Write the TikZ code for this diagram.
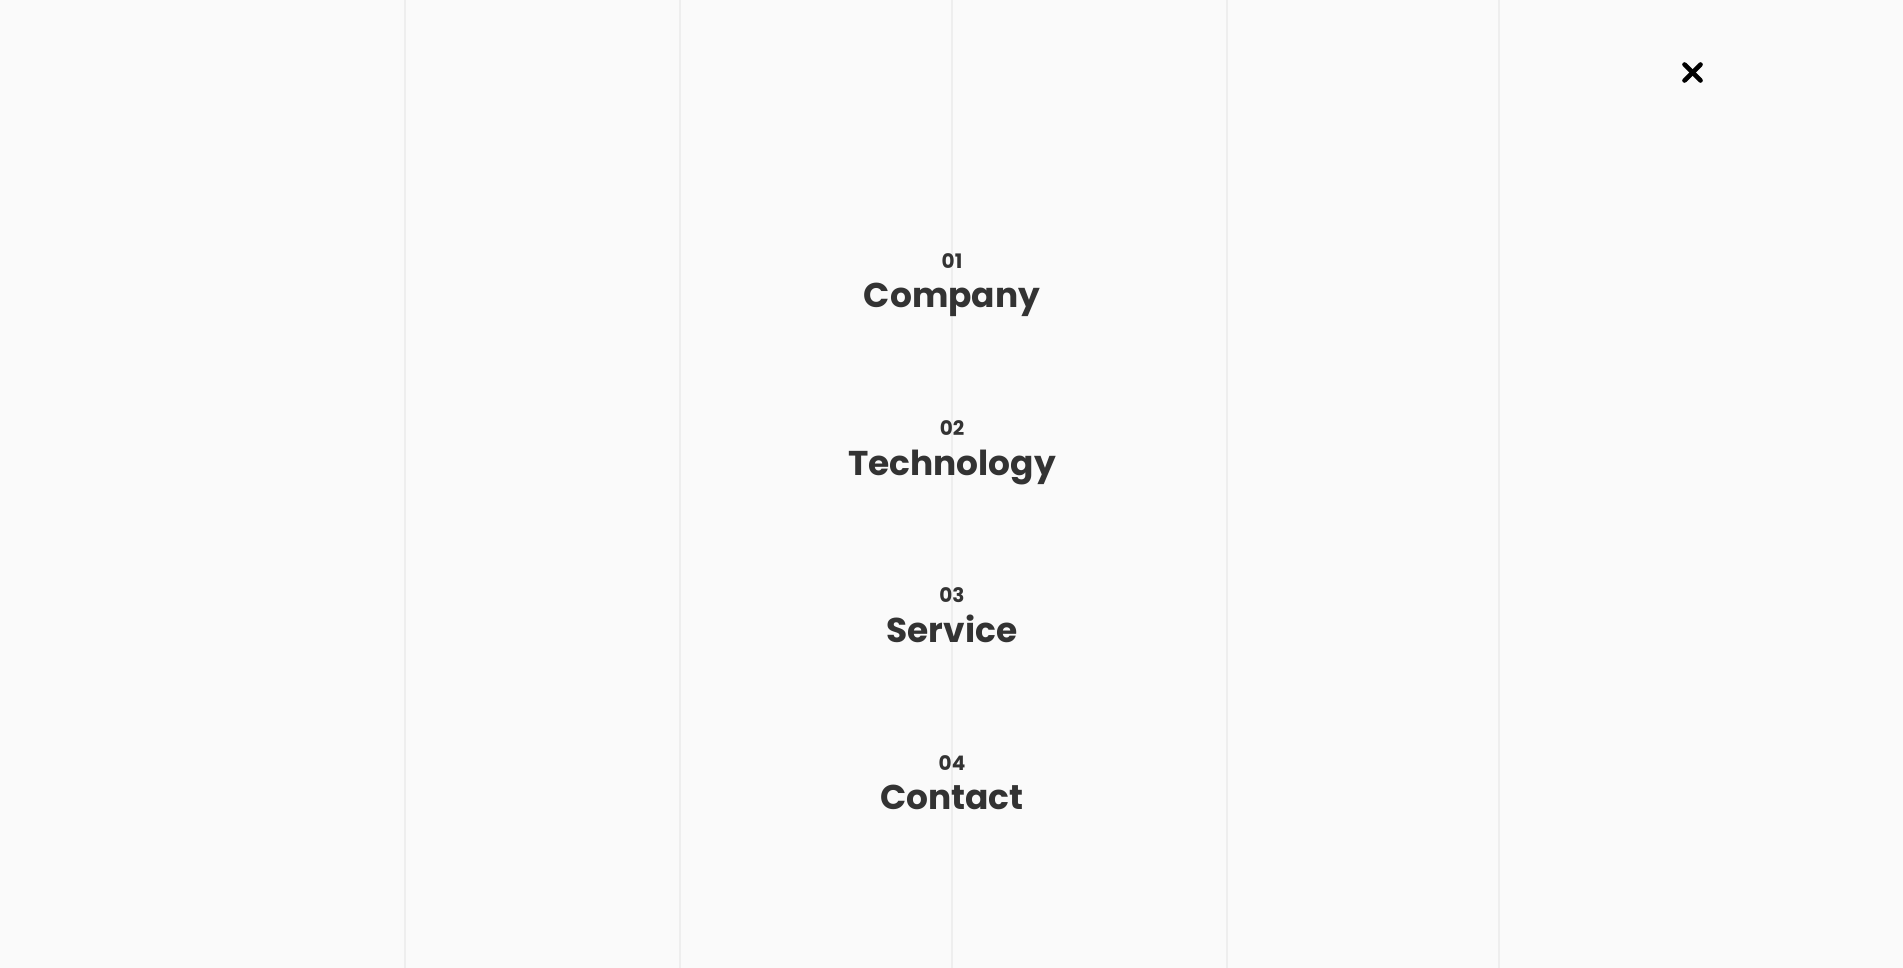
\documentclass[tikz,border=0pt]{standalone}
\usepackage{fontspec}
\setmainfont{Poppins}
\usetikzlibrary{positioning}
\definecolor{menutext}{HTML}{333333}
\definecolor{gridline}{HTML}{EEEEEE}
\definecolor{pagebg}{HTML}{FAFAFA}
\tikzset{
  menunum/.style={font=\bfseries\fontsize{10}{12}\selectfont,text=menutext,inner sep=0pt,anchor=base},
  menuitem/.style={font=\bfseries\fontsize{17.2}{20}\selectfont,text=menutext,inner sep=0pt,anchor=base},
  closemark/.style={line width=2.3pt,line cap=round,black}
}
\begin{document}
\begin{tikzpicture}[x=0.5pt,y=-0.5pt]
  \fill[pagebg] (0,0) rectangle (1903,968);
  \useasboundingbox (0,0) rectangle (1903,968);
  \foreach \x in {405,680,952,1227,1499}
    \draw[gridline,line width=0.6pt] (\x,0) -- (\x,968);
  % menu entries
  \node[menunum] (num1) at (952,269) {01};
  \node[menuitem] (company) at ([yshift=-19.5pt]num1.base) {Company};
  \node[menunum] (num2) at (952,436) {02};
  \node[menuitem] (technology) at ([yshift=-19.5pt]num2.base) {Technology};
  \node[menunum] (num3) at (952,603) {03};
  \node[menuitem] (service) at ([yshift=-19.5pt]num3.base) {Service};
  \node[menunum] (num4) at (952,770) {04};
  \node[menuitem] (contact) at ([yshift=-19.5pt]num4.base) {Contact};
  % close button
  \coordinate (close) at (1692.5,72.5);
  \draw[closemark] ([shift={(-8,-8)}]close) -- ([shift={(8,8)}]close);
  \draw[closemark] ([shift={(-8,8)}]close) -- ([shift={(8,-8)}]close);
\end{tikzpicture}
\end{document}
